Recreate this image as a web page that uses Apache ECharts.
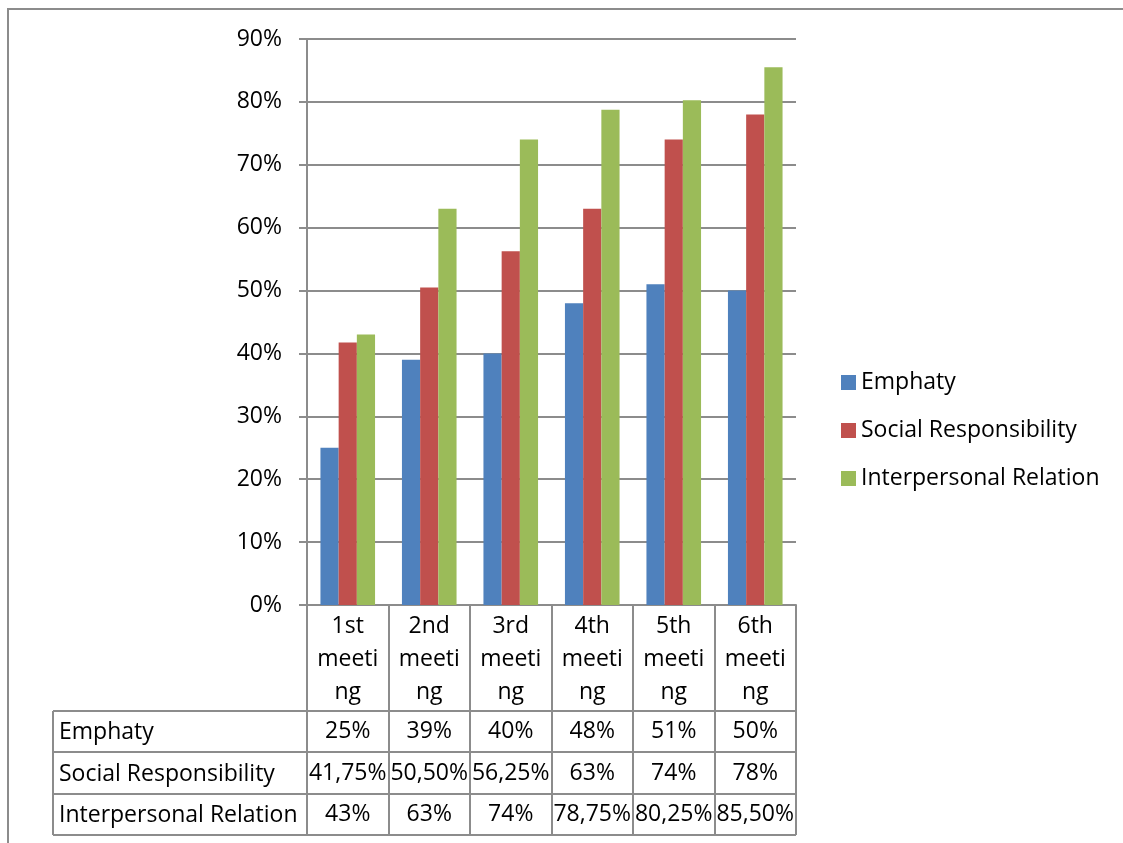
<!DOCTYPE html>
<html><head><meta charset="utf-8">
<script src="https://cdn.jsdelivr.net/npm/echarts@6/dist/echarts.min.js"></script>
<style>html,body{margin:0;padding:0;background:#fff}#c{width:1123px;height:843px}</style>
</head><body><div id="c"></div>
<script>
const categories = ['1st meeting','2nd meeting','3rd meeting','4th meeting','5th meeting','6th meeting'];
const categoryTickLabels = ['1st\nmeeti\nng','2nd\nmeeti\nng','3rd\nmeeti\nng','4th\nmeeti\nng','5th\nmeeti\nng','6th\nmeeti\nng'];
const seriesNames = ['Emphaty','Social Responsibility','Interpersonal Relation'];
const emphaty = [25, 39, 40, 48, 51, 50];
const socialResponsibility = [41.75, 50.5, 56.25, 63, 74, 78];
const interpersonalRelation = [43, 63, 74, 78.75, 80.25, 85.5];
const emphatyLabels = ['25%','39%','40%','48%','51%','50%'];
const socialLabels = ['41,75%','50,50%','56,25%','63%','74%','78%'];
const interpersonalLabels = ['43%','63%','74%','78,75%','80,25%','85,50%'];
const yTicks = [0,10,20,30,40,50,60,70,80,90];

const FONT = 'Open Sans';
const FS = 23;
const GRID = {left:307, top:39, right:327, bottom:238};
const gx0 = 307, gx1 = 796, gy1 = 605;
const tableLeft = 53;
const rowLines = [711, 752, 794, 835];
const colors = ['#4F81BD','#C0504D','#9BBB59'];
const lineColor = '#8C8C8C';

const chart = echarts.init(document.getElementById('c'));

function tableAxis(labels, centerY){
  return {
    type:'category', data: categories, gridIndex:0, position:'bottom',
    offset: centerY - gy1,
    axisLine:{show:false}, axisTick:{show:false}, splitLine:{show:false},
    axisLabel:{interval:0, margin:0, verticalAlign:'middle', color:'#000',
      fontFamily:FONT, fontSize:FS, formatter:(v,i)=>labels[i]}
  };
}

const graphics = [
  {type:'rect', shape:{x:8, y:9, width:1200, height:900}, style:{fill:'none', stroke:lineColor, lineWidth:2}, silent:true}
];
rowLines.forEach(y=>{
  graphics.push({type:'line', shape:{x1:tableLeft, y1:y, x2:gx1, y2:y}, style:{stroke:lineColor, lineWidth:2}, silent:true});
});
graphics.push({type:'line', shape:{x1:tableLeft, y1:rowLines[0], x2:tableLeft, y2:rowLines[3]}, style:{stroke:lineColor, lineWidth:2}, silent:true});
seriesNames.forEach((n,i)=>{
  graphics.push({type:'text', x:tableLeft+6, y:(rowLines[i]+rowLines[i+1])/2 + 1,
    style:{text:n, fill:'#000', fontFamily:FONT, fontSize:FS, align:'left', verticalAlign:'middle'}, silent:true});
});

chart.setOption({
  animation:false,
  backgroundColor:'#fff',
  grid: GRID,
  legend:{
    orient:'vertical', left:836, top:366,
    itemWidth:15, itemHeight:15, itemGap:25,
    icon:'rect',
    textStyle:{fontFamily:FONT, fontSize:FS, color:'#000'},
    data: seriesNames
  },
  xAxis:[
    {type:'category', data:categories, gridIndex:0,
      axisLine:{show:true, lineStyle:{color:lineColor, width:2}},
      axisTick:{show:true, length:230, lineStyle:{color:lineColor, width:2}},
      axisLabel:{interval:0, margin:5, color:'#000', fontFamily:FONT, fontSize:FS, lineHeight:33,
        formatter:(v,i)=>categoryTickLabels[i]}
    },
    tableAxis(emphatyLabels, (rowLines[0]+rowLines[1])/2),
    tableAxis(socialLabels, (rowLines[1]+rowLines[2])/2),
    tableAxis(interpersonalLabels, (rowLines[2]+rowLines[3])/2)
  ],
  yAxis:{type:'value', min:yTicks[0], max:yTicks[yTicks.length-1], interval:10,
    axisLine:{show:true, lineStyle:{color:lineColor, width:2}},
    axisTick:{show:true, length:8, lineStyle:{color:lineColor, width:2}},
    splitLine:{show:true, lineStyle:{color:lineColor, width:2}},
    axisLabel:{margin:25, color:'#000', fontFamily:FONT, fontSize:FS, formatter:'{value}%'}
  },
  series:[
    {name:seriesNames[0], type:'bar', data:emphaty, itemStyle:{color:colors[0]}, barGap:'0%', barCategoryGap:'33%'},
    {name:seriesNames[1], type:'bar', data:socialResponsibility, itemStyle:{color:colors[1]}, barGap:'0%', barCategoryGap:'33%'},
    {name:seriesNames[2], type:'bar', data:interpersonalRelation, itemStyle:{color:colors[2]}, barGap:'0%', barCategoryGap:'33%'}
  ],
  graphic: graphics
});
</script></body></html>
